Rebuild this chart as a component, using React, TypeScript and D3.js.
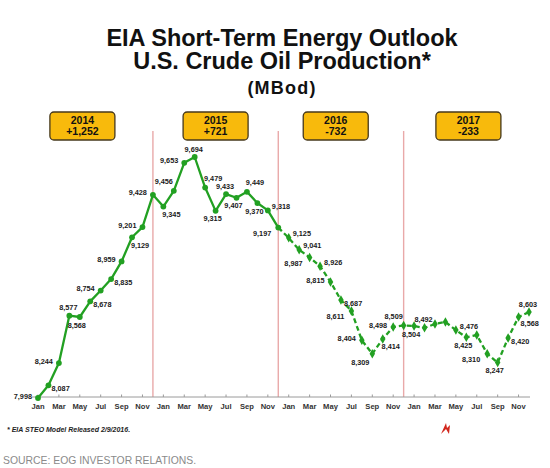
import React from "react";
import * as d3 from "d3";

// ---- data ----
const years = ["2014", "2015", "2016", "2017"];
const yearChange = ["+1,252", "+721", "-732", "-233"];
const tickMonths = ["Jan", "Mar", "May", "Jul", "Sep", "Nov"];
const prod2014 = [7998, 8087, 8244, 8577, 8568, 8678, 8754, 8835, 8959, 9129, 9201, 9428];
const prod2015 = [9345, 9456, 9653, 9694, 9479, 9315, 9433, 9407, 9449, 9370, 9318, 9197];
const prod2016 = [9125, 9041, 8987, 8926, 8815, 8687, 8611, 8404, 8309, 8414, 8498, 8509];
const prod2017 = [8504, 8492, 8519, 8533, 8476, 8425, 8441, 8310, 8247, 8420, 8568, 8603];
// label placement per point ("" = no label)
const place2014 = ["L", "R", "L", "A", "B", "R", "L", "R", "L", "BR", "L", "L"];
const place2015 = ["BR", "AL", "L", "A", "AR", "B", "A", "B", "AR", "B", "RA", "LB"];
const place2016 = ["RA", "RA", "LB", "RA", "L", "R", "LB", "L", "BL", "BR", "L", "AL"];
const place2017 = ["B", "A", "", "", "RA", "B", "", "LB", "B", "R", "RB", "A"];
const boxCenterMonth = [4.25, 17, 28.5, 41.2];

const values = [...prod2014, ...prod2015, ...prod2016, ...prod2017];
const placements = [...place2014, ...place2015, ...place2016, ...place2017];

const W = 550;
const H = 468;
const GREEN = "#22a022";
const FONT = "'Liberation Sans', Arial, sans-serif";

const offsets: Record<string, [number, number, "start" | "middle" | "end"]> = {
  L: [-6, -2, "end"],
  LB: [-7, 6, "end"],
  R: [3, 3, "start"],
  RA: [4, -4, "start"],
  RB: [2, 6, "start"],
  A: [-1, -8, "middle"],
  AL: [-10, -9, "middle"],
  AR: [8, -9, "middle"],
  B: [-3, 8, "middle"],
  BR: [8, 8, "middle"],
  BL: [-12, 9, "middle"],
};

export default function App() {
  const idx = d3.range(values.length);
  const x = d3.scalePoint<number>().domain(idx).range([38, 529]);
  const y = d3.scaleLinear().domain([7998, 9694]).range([398, 157]);
  const line = d3
    .line<number>()
    .x((i) => x(i) as number)
    .y((i) => y(values[i]));
  const solidIdx = idx.filter((i) => i <= 23);
  const dashIdx = idx.filter((i) => i >= 23);
  const fmt = d3.format(",");
  const axisY = 397;
  const sepTop = 131;

  return (
    <div style={{ position: "absolute", left: 0, top: 0 }}>
      <svg width={W} height={H} style={{ display: "block", background: "#fff" }} fontFamily={FONT}>
        {/* title */}
        <g textAnchor="middle" fontWeight="bold" fill="#111">
          <text x={282} y={46} fontSize={23.5}>EIA Short-Term Energy Outlook</text>
          <text x={282} y={69} fontSize={23.5}>U.S. Crude Oil Production*</text>
          <text x={282} y={94} fontSize={18} letterSpacing={1.2}>(MBod)</text>
        </g>

        {/* year separators */}
        {[11, 23, 35].map((i) => (
          <line key={i} x1={x(i)} x2={x(i)} y1={sepTop} y2={axisY} stroke="#e9a9a9" strokeWidth={1.4} />
        ))}

        {/* year boxes */}
        {years.map((yr, k) => {
          const cx = x(0)! + boxCenterMonth[k] * x.step();
          return (
            <g key={yr}>
              <rect x={cx - 32.5} y={112} width={65} height={28} rx={4} fill="#f8ba0c" stroke="#45381c" strokeWidth={1.3} />
              <text x={cx} y={124} textAnchor="middle" fontSize={10.5} fontWeight="bold" fill="#111">{yr}</text>
              <text x={cx} y={134.5} textAnchor="middle" fontSize={10.5} fontWeight="bold" fill="#111">{yearChange[k]}</text>
            </g>
          );
        })}

        {/* axis */}
        <line x1={32} x2={530} y1={axisY} y2={axisY} stroke="#9a9a9a" strokeWidth={1} />
        {idx
          .filter((i) => i % 2 === 0)
          .map((i) => (
            <g key={i}>
              <line x1={x(i)} x2={x(i)} y1={axisY} y2={axisY - 2.5} stroke="#9a9a9a" strokeWidth={1} />
              <text x={x(i)} y={409} textAnchor="middle" fontSize={7.6} fontWeight="bold" fill="#333">
                {tickMonths[(i % 12) / 2]}
              </text>
            </g>
          ))}

        {/* lines */}
        <path d={line(solidIdx) || ""} fill="none" stroke={GREEN} strokeWidth={2.3} strokeLinejoin="round" />
        <path d={line(dashIdx) || ""} fill="none" stroke={GREEN} strokeWidth={2.3} strokeDasharray="5,3" />

        {/* markers */}
        {idx.map((i) =>
          i <= 23 ? (
            <circle key={i} cx={x(i)} cy={y(values[i])} r={2.9} fill={GREEN} />
          ) : (
            <path
              key={i}
              d={d3.symbol(d3.symbolDiamond, 26)() || ""}
              transform={`translate(${x(i)},${y(values[i])})`}
              fill={GREEN}
            />
          )
        )}

        {/* data labels */}
        {idx.map((i) => {
          const p = placements[i];
          if (!p) return null;
          const [dx, dy, anchor] = offsets[p];
          return (
            <text
              key={i}
              x={(x(i) as number) + dx}
              y={y(values[i]) + dy + 2.6}
              textAnchor={anchor}
              fontSize={7.3}
              fontWeight="bold"
              fill="#1a1a1a"
            >
              {fmt(values[i])}
            </text>
          );
        })}

        {/* footnotes */}
        <text x={7} y={432} fontSize={7} fontWeight="bold" fontStyle="italic" fill="#222">
          * EIA STEO Model Released 2/9/2016.
        </text>
        <text x={3} y={464} fontSize={10.4} fill="#8a8a8a">SOURCE: EOG INVESTOR RELATIONS.</text>

        {/* logo */}
        <path d="M441,434 L446,423 L447,428 L450,425 L449,434 L446,429 Z" fill="#d2261c" />
      </svg>
    </div>
  );
}
